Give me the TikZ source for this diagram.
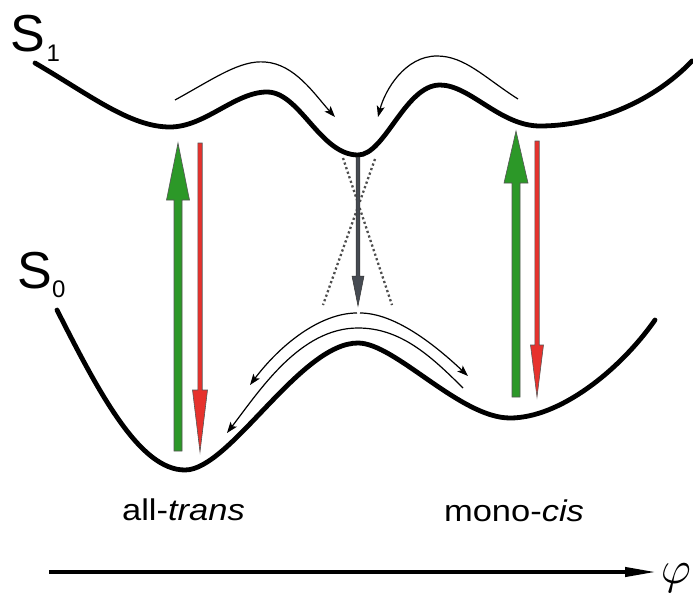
\documentclass[tikz,border=0pt]{standalone}
\usepackage{fontspec}
\setmainfont{Liberation Sans}
\usetikzlibrary{arrows.meta}
\definecolor{pumpgreen}{RGB}{44,152,40}
\definecolor{emitred}{RGB}{230,50,45}
\definecolor{decaygray}{RGB}{70,75,82}
\definecolor{edgegray}{RGB}{85,85,85}

\begin{document}
\begin{tikzpicture}[x=1pt,y=-1pt,
  surface/.style={line width=4.8pt, line cap=round},
  flow/.style={line width=1.2pt, -{Stealth[length=11pt,width=8pt,inset=2.5pt]}},
  pumparrow/.style={fill=pumpgreen, draw=edgegray, line width=0.6pt},
  emitarrow/.style={fill=emitred, draw=edgegray, line width=0.6pt},
  decayarrow/.style={fill=decaygray, draw=black!80, line width=0.5pt},
  crossing/.style={draw=black!70, line width=2.3pt, dash pattern=on 2.2pt off 2.6pt},
  statelabel/.style={inner sep=0, anchor=base west, font=\fontsize{52}{52}\selectfont},
  sublabel/.style={inner sep=0, anchor=base west, font=\fontsize{24}{24}\selectfont},
  isomer/.style={inner sep=0, anchor=base, font=\fontsize{30}{30}\selectfont},
]
\useasboundingbox (0,0) rectangle (693,594);

% excited-state surface S1
\draw[surface] (35,63) .. controls (90,95) and (130,127) .. (170,127)
  .. controls (205,127) and (235,92) .. (267,92)
  .. controls (300,92) and (320,155) .. (358,155)
  .. controls (385,155) and (405,85) .. (440,85)
  .. controls (470,85) and (500,126) .. (540,126)
  .. controls (590,126) and (650,105) .. (692,61);

% ground-state surface S0
\draw[surface] (57,310) .. controls (100,395) and (140,470) .. (185,470)
  .. controls (230,470) and (300,343) .. (358,343)
  .. controls (395,343) and (460,418) .. (510,418)
  .. controls (560,418) and (620,370) .. (655,320);

% relaxation paths on S1
\draw[flow] (175,100) .. controls (215,78) and (240,60) .. (265,62)
  .. controls (295,64) and (315,95) .. (335,117);
\draw[flow] (518,99) .. controls (485,78) and (465,56) .. (437,56)
  .. controls (405,56) and (385,90) .. (378,117);

% relaxation paths on S0
\draw[flow] (357,313) .. controls (320,313) and (280,345) .. (250,385);
\draw[flow] (360,313) .. controls (395,313) and (435,345) .. (468,376);
\draw[flow] (463,388) .. controls (430,355) and (400,328) .. (358,328)
  .. controls (300,328) and (260,390) .. (227,433);

% conical intersection
\draw[crossing] (343,158) -- (392,305);
\draw[crossing] (375,159) -- (323,305);
\draw[decayarrow] (356.2,157) -- (356.2,276) -- (352,276) -- (358,306)
  -- (364,276) -- (359.8,276) -- (359.8,157) -- cycle;

% absorption and emission, all-trans
\draw[pumparrow] (174,451) -- (174,200) -- (166.5,200) -- (178,143)
  -- (189.5,200) -- (182,200) -- (182,451) -- cycle;
\draw[emitarrow] (197.8,143) -- (197.8,390) -- (192.5,390) -- (200,452)
  -- (207.5,390) -- (202.2,390) -- (202.2,143) -- cycle;

% absorption and emission, mono-cis
\draw[pumparrow] (512,397) -- (512,183) -- (504,183) -- (516,131)
  -- (528,183) -- (520,183) -- (520,397) -- cycle;
\draw[emitarrow] (534.8,141) -- (534.8,345) -- (530.5,345) -- (537,397)
  -- (543.5,345) -- (539.2,345) -- (539.2,141) -- cycle;

% state labels
\node[statelabel] (s1) at (10.5,52) {S};
\node[sublabel] (s1sub) at (46.5,62) {1};
\node[statelabel] (s0) at (17.5,288) {S};
\node[sublabel] (s0sub) at (52,297) {0};

% isomer labels
\node[isomer] (trans) at (183.5,520) {\scalebox{1.15}[1]{all-\textit{trans}}};
\node[isomer] (cis) at (514,521) {\scalebox{1.15}[1]{mono-\textit{cis}}};

% torsion coordinate axis
\coordinate (axstart) at (49,572);
\coordinate (axend) at (657,572);
\draw[line width=4pt, -{Triangle[length=32pt,width=9pt]}] (axstart) -- (axend);
\node[inner sep=0] (phi) at (676,578) {\scalebox{4.6}{$\varphi$}};
\end{tikzpicture}
\end{document}
